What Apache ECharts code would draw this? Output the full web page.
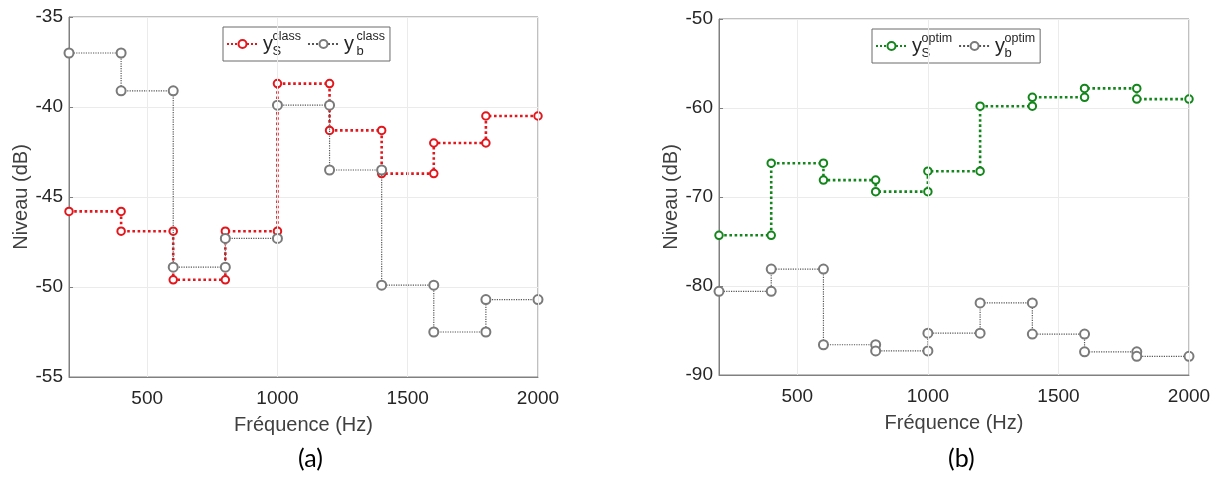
<!DOCTYPE html>
<html><head><meta charset="utf-8">
<script src="https://cdn.jsdelivr.net/npm/echarts@6/dist/echarts.min.js"></script>
<style>html,body{margin:0;padding:0;background:#fff}#c{width:1219px;height:478px}</style>
</head><body><div id="c"></div>
<script>
const bandEdges = [200,400,600,800,1000,1200,1400,1600,1800,2000];
const ysClass = [-45.8,-46.9,-49.6,-46.9,-38.7,-41.3,-43.7,-42.0,-40.5];
const ybClass = [-37.0,-39.1,-48.9,-47.3,-39.9,-43.5,-49.9,-52.5,-50.7];
const ysOptim = [-74.3,-66.2,-68.1,-69.4,-67.1,-59.8,-58.8,-57.8,-59.0];
const ybOptim = [-80.6,-78.1,-86.6,-87.3,-85.3,-81.9,-85.4,-87.4,-87.9];
const xTicks = [500,1000,1500,2000];
const legendLabels = {
  ysClass: '{y|y}{sub|S}{sup|class}',
  ybClass: '{y|y}{gap| }{sub|b}{sup|class}',
  ysOptim: '{y|y}{sub|S}{sup|optim}',
  ybOptim: '{y|y}{sub|b}{sup|optim}'
};

function stairs(vals){
  const pts=[];
  for(let i=0;i<vals.length;i++){pts.push([bandEdges[i],vals[i]]);pts.push([bandEdges[i+1],vals[i]]);}
  return pts;
}
const RED='#e3161c', GREEN='#13861b', GRAY='#555555';
const FONT='"Liberation Sans", Arial, Helvetica, sans-serif';
const tickColor='#262626';
const boxColor='#808080';
const gridColor='#ebebeb';

function xAxis(gi){
  return {type:'value', gridIndex:gi, min:200, max:2000,
    name:'Fréquence (Hz)', nameLocation:'middle', nameGap:38,
    nameTextStyle:{fontFamily:FONT,fontSize:20,color:'#404040'},
    axisLine:{show:true,lineStyle:{color:boxColor}},
    axisTick:{show:true,inside:true,length:4,customValues:xTicks,lineStyle:{color:boxColor}},
    axisLabel:{customValues:xTicks,formatter:v=>String(v),fontFamily:FONT,fontSize:19,color:tickColor,margin:12},
    splitLine:{show:false}};
}
function yAxis(gi,min,max,interval){
  return {type:'value', gridIndex:gi, min:min, max:max, interval:interval,
    name:'Niveau (dB)', nameLocation:'middle', nameGap:38,
    nameTextStyle:{fontFamily:FONT,fontSize:20,color:'#404040'},
    axisLine:{show:true,lineStyle:{color:boxColor}},
    axisTick:{show:true,inside:true,length:4,lineStyle:{color:boxColor}},
    axisLabel:{formatter:v=>String(v),fontFamily:FONT,fontSize:19,color:tickColor,margin:6},
    splitLine:{show:true,lineStyle:{color:gridColor,width:1}}};
}
function gridLines(gi){
  return {type:'line', xAxisIndex:gi, yAxisIndex:gi, data:[], silent:true, z:1,
    markLine:{silent:true,symbol:'none',label:{show:false},animation:false,
      lineStyle:{color:gridColor,type:'solid',width:1},
      data:xTicks.map(v=>({xAxis:v}))}};
}
function sSeries(name,vals,gi,color){
  return {name:name,type:'line',xAxisIndex:gi,yAxisIndex:gi,data:stairs(vals),
    symbol:'emptyCircle',symbolSize:7.5,z:3,
    lineStyle:{type:'dotted',width:2.6,color:color},
    itemStyle:{color:color,borderWidth:2.8}};
}
function bSeries(name,vals,gi){
  return {name:name,type:'line',xAxisIndex:gi,yAxisIndex:gi,data:stairs(vals),
    symbol:'emptyCircle',symbolSize:9,z:4,
    lineStyle:{type:'dotted',width:1.2,color:GRAY},
    itemStyle:{color:'#7a7a7a',borderWidth:1}};
}
const rich={
  y:{fontFamily:FONT,fontSize:20,lineHeight:28,color:tickColor,verticalAlign:'middle',width:9.5},
  sup:{fontFamily:FONT,fontSize:12.5,lineHeight:13,color:tickColor,verticalAlign:'top'},
  sub:{fontFamily:FONT,fontSize:13,lineHeight:13,color:tickColor,verticalAlign:'bottom',width:0.01},
  gap:{fontFamily:FONT,fontSize:10,lineHeight:13,width:3}
};
function legend(names,left,top){
  return {data:names,left:left,top:top,orient:'horizontal',
    padding:[3,5,3,3],itemGap:6,itemWidth:31,itemHeight:10,
    borderColor:'#6a6a6a',borderWidth:1,backgroundColor:'#fff',
    formatter:n=>legendLabels[n],
    textStyle:{rich:rich,color:tickColor,fontFamily:FONT}};
}

const chart=echarts.init(document.getElementById('c'),null,{renderer:'canvas'});
chart.setOption({
  animation:false,
  backgroundColor:'#fff',
  grid:[
    {left:69,top:17,width:469,height:360,show:true,borderColor:boxColor,borderWidth:1,backgroundColor:'transparent'},
    {left:719,top:19,width:470,height:356,show:true,borderColor:boxColor,borderWidth:1,backgroundColor:'transparent'}
  ],
  xAxis:[xAxis(0),xAxis(1)],
  yAxis:[yAxis(0,-55,-35,5),yAxis(1,-90,-50,10)],
  legend:[legend(['ysClass','ybClass'],223,27),legend(['ysOptim','ybOptim'],872,29)],
  series:[
    gridLines(0),gridLines(1),
    sSeries('ysClass',ysClass,0,RED),
    bSeries('ybClass',ybClass,0),
    sSeries('ysOptim',ysOptim,1,GREEN),
    bSeries('ybOptim',ybOptim,1)
  ],
  graphic:[
    {type:'text',left:298,top:446,style:{text:'(a)',fontFamily:'Lato',fontSize:25,fill:'#000'}},
    {type:'text',left:948,top:446,style:{text:'(b)',fontFamily:'Lato',fontSize:25,fill:'#000'}}
  ]
});
</script></body></html>
